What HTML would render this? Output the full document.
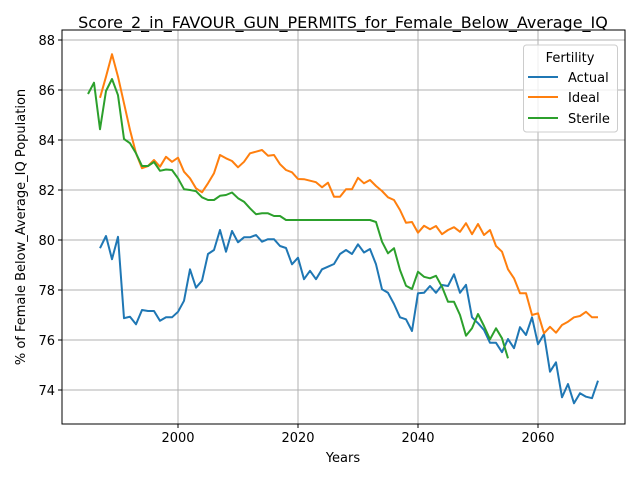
<!DOCTYPE html>
<html><head><meta charset="utf-8"><style>
body{margin:0;background:#fff;font-family:"Liberation Sans","DejaVu Sans",sans-serif}
svg text{font-family:"DejaVu Sans","Liberation Sans",sans-serif}
</style></head><body>
<svg id="chart" width="640" height="480" xmlns="http://www.w3.org/2000/svg">
<rect width="640" height="480" fill="#fff"/>
<text x="343" y="28" text-anchor="middle" font-size="16">Score_2_in_FAVOUR_GUN_PERMITS_for_Female_Below_Average_IQ</text>
<g id="grid"></g><g id="series"></g><g id="axes"></g>
<text x="343" y="462" text-anchor="middle" font-size="13">Years</text>
<text transform="translate(25,227) rotate(-90)" text-anchor="middle" font-size="13">% of Female Below_Average_IQ Population</text>
<g>
<rect x="523.5" y="45" width="94" height="87" rx="3" fill="#fff" fill-opacity="0.8" stroke="#ccc"/>
<text x="570" y="62" text-anchor="middle" font-size="13">Fertility</text>
<line x1="528" y1="77" x2="558" y2="77" stroke="#1f77b4" stroke-width="2"/><text x="568" y="82" font-size="13">Actual</text>
<line x1="528" y1="97" x2="558" y2="97" stroke="#ff7f0e" stroke-width="2"/><text x="568" y="102" font-size="13">Ideal</text>
<line x1="528" y1="118" x2="558" y2="118" stroke="#2ca02c" stroke-width="2"/><text x="568" y="123" font-size="13">Sterile</text>
</g>
</svg>
<script>
const actualStart=1987;
const actual=[79.67,80.16,79.23,80.13,76.87,76.93,76.63,77.2,77.16,77.16,76.77,76.91,76.91,77.13,77.57,78.83,78.09,78.37,79.44,79.6,80.4,79.53,80.36,79.91,80.11,80.11,80.2,79.93,80.03,80.03,79.76,79.68,79.03,79.29,78.43,78.77,78.43,78.83,78.93,79.04,79.44,79.6,79.44,79.83,79.5,79.64,79.03,78.03,77.89,77.44,76.91,76.83,76.36,77.87,77.89,78.16,77.89,78.2,78.16,78.63,77.89,78.21,76.91,76.67,76.4,75.89,75.89,75.51,76.04,75.67,76.51,76.2,76.91,75.83,76.24,74.73,75.11,73.71,74.24,73.47,73.87,73.73,73.67,74.37];
const idealStart=1987;
const ideal=[85.69,86.53,87.43,86.53,85.47,84.4,83.47,82.87,82.96,83.2,82.93,83.33,83.13,83.29,82.73,82.47,82.07,81.91,82.27,82.67,83.4,83.27,83.16,82.91,83.13,83.47,83.53,83.6,83.37,83.4,83.03,82.8,82.71,82.44,82.43,82.37,82.31,82.11,82.29,81.73,81.73,82.03,82.03,82.49,82.27,82.4,82.16,81.96,81.71,81.6,81.2,80.69,80.72,80.29,80.57,80.43,80.56,80.23,80.4,80.51,80.33,80.67,80.23,80.64,80.2,80.4,79.76,79.53,78.83,78.47,77.87,77.87,77.0,77.07,76.27,76.53,76.29,76.6,76.73,76.91,76.96,77.13,76.91,76.91];
const sterileStart=1985;
const sterile=[85.84,86.29,84.43,85.96,86.44,85.79,84.04,83.87,83.47,82.96,82.96,83.12,82.77,82.82,82.8,82.47,82.03,82.0,81.95,81.71,81.6,81.6,81.77,81.8,81.9,81.67,81.53,81.27,81.03,81.07,81.07,80.96,80.96,80.8,80.8,80.8,80.8,80.8,80.8,80.8,80.8,80.8,80.8,80.8,80.8,80.8,80.8,80.8,80.72,79.93,79.47,79.67,78.8,78.17,78.04,78.73,78.53,78.47,78.57,78.13,77.53,77.53,77.0,76.17,76.47,77.04,76.56,76.03,76.47,76.07,75.27];
const xTicks=[2000,2020,2040,2060];
const yTicks=[74,76,78,80,82,84,86,88];
const L=62,R=625,T=30,B=424;
const xs=y=>178+(y-2000)*6;
const ys=v=>40+(88-v)*25;
const NS="http://www.w3.org/2000/svg";
const grid=document.getElementById('grid'),axes=document.getElementById('axes'),ser=document.getElementById('series');
function mk(tag,attrs,parent){const e=document.createElementNS(NS,tag);for(const k in attrs)e.setAttribute(k,attrs[k]);parent.appendChild(e);return e;}
xTicks.forEach(t=>{const x=xs(t);
const g=mk('line',{x1:x,x2:x,y1:T,y2:B,stroke:'#b0b0b0','stroke-width':1},grid);


mk('line',{x1:x,x2:x,y1:B,y2:B+4,stroke:'#000'},axes);
const tx=mk('text',{x:x,y:B+18,'text-anchor':'middle','font-size':13},axes);tx.textContent=t;

});
yTicks.forEach(t=>{const y=ys(t);
const g=mk('line',{x1:L,x2:R,y1:y,y2:y,stroke:'#b0b0b0','stroke-width':1},grid);


mk('line',{x1:L-4,x2:L,y1:y,y2:y,stroke:'#000'},axes);
const tx=mk('text',{x:L-7,y:y+5,'text-anchor':'end','font-size':13},axes);tx.textContent=t;

});
const fr=mk('rect',{x:L,y:T,width:R-L,height:B-T,fill:'none',stroke:'#000','stroke-width':1},axes);


function line(data,start,color,name){const pts=data.map((v,i)=>xs(start+i).toFixed(1)+','+ys(v).toFixed(1)).join(' ');
const p=mk('polyline',{points:pts,fill:'none',stroke:color,'stroke-width':2,'stroke-linejoin':'round'},ser);

}
line(actual,actualStart,'#1f77b4','actual-line');
line(ideal,idealStart,'#ff7f0e','ideal-line');
line(sterile,sterileStart,'#2ca02c','sterile-line');
</script>
</body></html>
